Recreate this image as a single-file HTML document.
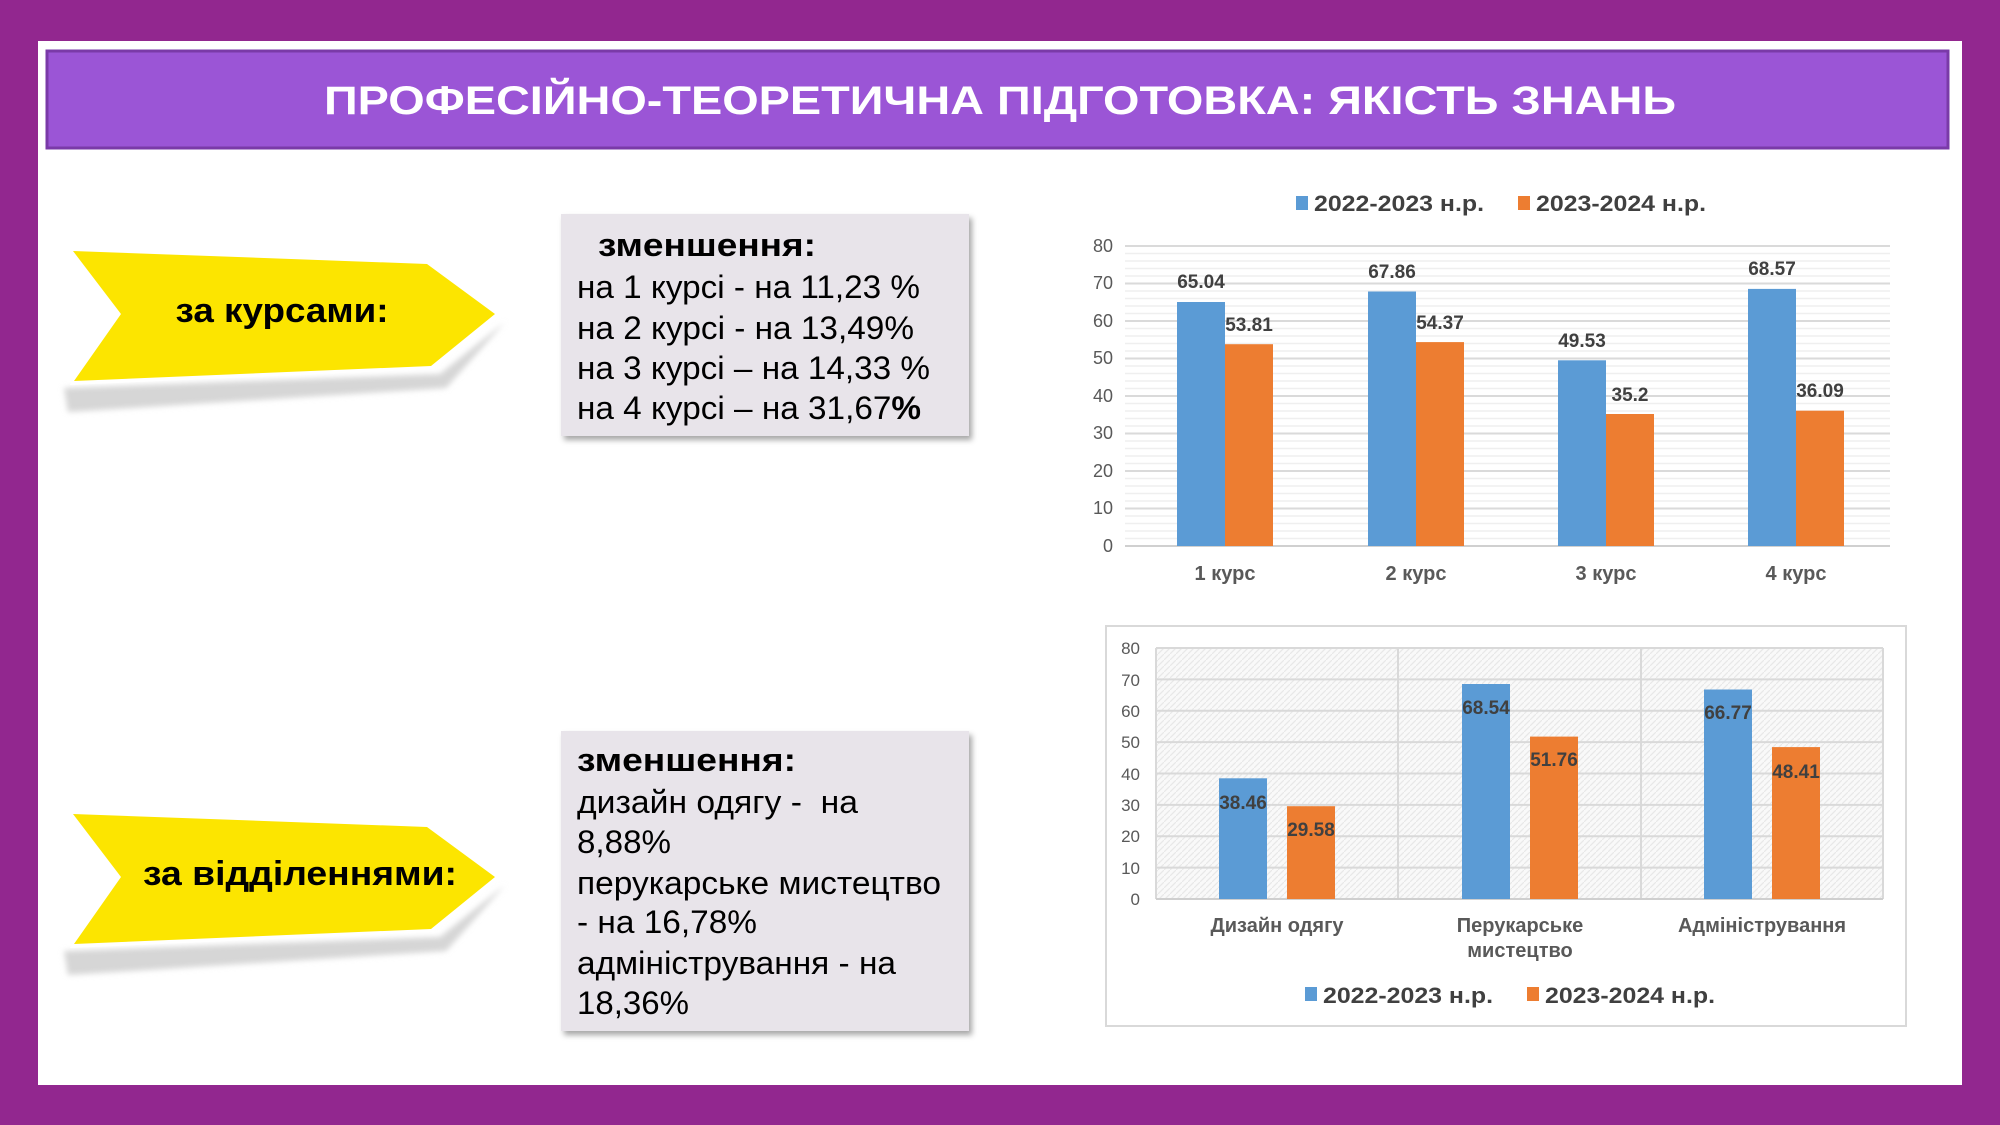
<!DOCTYPE html>
<html><head><meta charset="utf-8"><style>
html,body{margin:0;padding:0;background:#92278f;}
svg{display:block}
text{font-family:"Liberation Sans",sans-serif;}
</style></head><body>
<svg width="2000" height="1125" viewBox="0 0 2000 1125" xmlns="http://www.w3.org/2000/svg">
<defs>
<pattern id="h" width="6" height="6" patternUnits="userSpaceOnUse">
<rect width="6" height="6" fill="#f9f9f9"/>
<path d="M0,6 L6,0" stroke="#e8e8e8" stroke-width="1.2"/>
</pattern>
<filter id="sh" x="-10%" y="-10%" width="130%" height="130%"><feDropShadow dx="3" dy="4" stdDeviation="3" flood-color="#000" flood-opacity="0.35"/></filter>
<filter id="bl"><feGaussianBlur stdDeviation="3"/></filter>
</defs>
<rect width="2000" height="1125" fill="#92278f"/>
<rect x="38" y="41" width="1924" height="1044" fill="#fff"/>
<rect x="47" y="51" width="1901" height="97" fill="#9b55d6" stroke="#7a3aa8" stroke-width="3"/>
<text x="1000" y="114" text-anchor="middle" font-size="40" font-weight="bold" fill="#fff" textLength="1352" lengthAdjust="spacingAndGlyphs">ПРОФЕСІЙНО-ТЕОРЕТИЧНА ПІДГОТОВКА: ЯКІСТЬ ЗНАНЬ</text>

<!-- arrows -->
<g>
<polygon points="64,388 440,374 505,322 446,388 68,412" fill="#d6d6d6" filter="url(#bl)"/>
<polygon points="68,247 429,262 500,314 433,369 70,385 115,314" fill="#fff"/>
<polygon points="73,251 427,264 495,314 431,366 74,381 121,314" fill="#fce500"/>
<text x="282" y="322" text-anchor="middle" font-size="34" font-weight="bold" fill="#000" textLength="213" lengthAdjust="spacingAndGlyphs">за курсами:</text>
</g>
<g transform="translate(0,563)">
<polygon points="64,388 440,374 505,322 446,388 68,412" fill="#d6d6d6" filter="url(#bl)"/>
<polygon points="68,247 429,262 500,314 433,369 70,385 115,314" fill="#fff"/>
<polygon points="73,251 427,264 495,314 431,366 74,381 121,314" fill="#fce500"/>
<text x="300" y="322" text-anchor="middle" font-size="34" font-weight="bold" fill="#000" textLength="314" lengthAdjust="spacingAndGlyphs">за відділеннями:</text>
</g>

<!-- text boxes -->
<rect x="561" y="214" width="408" height="222" fill="#e8e4ea" filter="url(#sh)"/>
<g font-size="32" fill="#000">
<text x="598" y="256" font-weight="bold" textLength="218" lengthAdjust="spacingAndGlyphs">зменшення:</text>
<text x="577" y="298" textLength="343" lengthAdjust="spacingAndGlyphs">на 1 курсі - на 11,23 %</text>
<text x="577" y="339" textLength="337" lengthAdjust="spacingAndGlyphs">на 2 курсі - на 13,49%</text>
<text x="577" y="379" textLength="353" lengthAdjust="spacingAndGlyphs">на 3 курсі – на 14,33 %</text>
<text x="577" y="419" textLength="344" lengthAdjust="spacingAndGlyphs">на 4 курсі – на 31,67<tspan font-weight="bold">%</tspan></text>
</g>
<rect x="561" y="731" width="408" height="300" fill="#e8e4ea" filter="url(#sh)"/>
<g font-size="32" fill="#000">
<text x="577" y="771" font-weight="bold" textLength="219" lengthAdjust="spacingAndGlyphs">зменшення:</text>
<text x="577" y="813" textLength="281" lengthAdjust="spacingAndGlyphs">дизайн одягу - &#160;на</text>
<text x="577" y="853" textLength="94" lengthAdjust="spacingAndGlyphs">8,88%</text>
<text x="577" y="894" textLength="364" lengthAdjust="spacingAndGlyphs">перукарське мистецтво</text>
<text x="577" y="933" textLength="180" lengthAdjust="spacingAndGlyphs">- на 16,78%</text>
<text x="577" y="974" textLength="319" lengthAdjust="spacingAndGlyphs">адміністрування - на</text>
<text x="577" y="1014" textLength="112" lengthAdjust="spacingAndGlyphs">18,36%</text>
</g>

<!-- chart 1 -->
<g>
<rect x="1296" y="196" width="12" height="14" fill="#5b9bd5"/>
<text x="1314" y="211" font-size="22" font-weight="bold" fill="#404040" textLength="170" lengthAdjust="spacingAndGlyphs">2022-2023 н.р.</text>
<rect x="1518" y="196" width="12" height="14" fill="#ed7d31"/>
<text x="1536" y="211" font-size="22" font-weight="bold" fill="#404040" textLength="170" lengthAdjust="spacingAndGlyphs">2023-2024 н.р.</text>
<g stroke="#efefef" stroke-width="1.5">
<path d="M1125,538.5H1890M1125,531H1890M1125,523.5H1890M1125,516H1890M1125,501H1890M1125,493.5H1890M1125,486H1890M1125,478.5H1890M1125,463.5H1890M1125,456H1890M1125,448.5H1890M1125,441H1890M1125,426H1890M1125,418.5H1890M1125,411H1890M1125,403.5H1890M1125,388.5H1890M1125,381H1890M1125,373.5H1890M1125,366H1890M1125,351H1890M1125,343.5H1890M1125,336H1890M1125,328.5H1890M1125,313.5H1890M1125,306H1890M1125,298.5H1890M1125,291H1890M1125,276H1890M1125,268.5H1890M1125,261H1890M1125,253.5H1890"/>
</g>
<g stroke="#dadada" stroke-width="2">
<path d="M1125,246H1890M1125,283.5H1890M1125,321H1890M1125,358.5H1890M1125,396H1890M1125,433.5H1890M1125,471H1890M1125,508.5H1890"/>
</g>
<path d="M1125,546H1890" stroke="#d0d0d0" stroke-width="2"/>
<g font-size="18" fill="#595959" text-anchor="end">
<text x="1113" y="552">0</text><text x="1113" y="514">10</text><text x="1113" y="477">20</text><text x="1113" y="439">30</text><text x="1113" y="402">40</text><text x="1113" y="364">50</text><text x="1113" y="327">60</text><text x="1113" y="289">70</text><text x="1113" y="252">80</text>
</g>
<g fill="#5b9bd5">
<rect x="1177" y="302" width="48" height="244"/><rect x="1368" y="291.5" width="48" height="254.5"/><rect x="1558" y="360.3" width="48" height="185.7"/><rect x="1748" y="288.9" width="48" height="257.1"/>
</g>
<g fill="#ed7d31">
<rect x="1225" y="344.2" width="48" height="201.8"/><rect x="1416" y="342.1" width="48" height="203.9"/><rect x="1606" y="414" width="48" height="132"/><rect x="1796" y="410.7" width="48" height="135.3"/>
</g>
<g font-size="19" font-weight="bold" fill="#404040" text-anchor="middle">
<text x="1201" y="288">65.04</text><text x="1249" y="331">53.81</text>
<text x="1392" y="278">67.86</text><text x="1440" y="329">54.37</text>
<text x="1582" y="347">49.53</text><text x="1630" y="401">35.2</text>
<text x="1772" y="275">68.57</text><text x="1820" y="397">36.09</text>
</g>
<g font-size="20" font-weight="bold" fill="#595959" text-anchor="middle">
<text x="1225" y="580">1 курс</text><text x="1416" y="580">2 курс</text><text x="1606" y="580">3 курс</text><text x="1796" y="580">4 курс</text>
</g>
</g>

<!-- chart 2 -->
<g>
<rect x="1106" y="626" width="800" height="400" fill="#fff" stroke="#d9d9d9" stroke-width="2"/>
<rect x="1156" y="648" width="727" height="251" fill="url(#h)"/>
<g stroke="#d9d9d9" stroke-width="2">
<path d="M1156,648H1883M1156,679.4H1883M1156,710.8H1883M1156,742.1H1883M1156,773.5H1883M1156,804.9H1883M1156,836.3H1883M1156,867.6H1883M1156,648V899M1398,648V899M1641,648V899M1883,648V899"/>
</g>
<path d="M1156,899H1883" stroke="#cfcfcf" stroke-width="2"/>
<g font-size="17" fill="#595959" text-anchor="end">
<text x="1140" y="905">0</text><text x="1140" y="874">10</text><text x="1140" y="842">20</text><text x="1140" y="811">30</text><text x="1140" y="780">40</text><text x="1140" y="748">50</text><text x="1140" y="717">60</text><text x="1140" y="686">70</text><text x="1140" y="654">80</text>
</g>
<g fill="#5b9bd5">
<rect x="1219" y="778.3" width="48" height="120.7"/><rect x="1462" y="684" width="48" height="215"/><rect x="1704" y="689.5" width="48" height="209.5"/>
</g>
<g fill="#ed7d31">
<rect x="1287" y="806.2" width="48" height="92.8"/><rect x="1530" y="736.6" width="48" height="162.4"/><rect x="1772" y="747.1" width="48" height="151.9"/>
</g>
<g font-size="19" font-weight="bold" fill="#404040" text-anchor="middle">
<text x="1243" y="809">38.46</text><text x="1311" y="836">29.58</text>
<text x="1486" y="714">68.54</text><text x="1554" y="766">51.76</text>
<text x="1728" y="719">66.77</text><text x="1796" y="778">48.41</text>
</g>
<g font-size="20" font-weight="bold" fill="#595959" text-anchor="middle">
<text x="1277" y="932">Дизайн одягу</text>
<text x="1520" y="932">Перукарське</text><text x="1520" y="957">мистецтво</text>
<text x="1762" y="932">Адміністрування</text>
</g>
<rect x="1305" y="987" width="12" height="14" fill="#5b9bd5"/>
<text x="1323" y="1003" font-size="22" font-weight="bold" fill="#404040" textLength="170" lengthAdjust="spacingAndGlyphs">2022-2023 н.р.</text>
<rect x="1527" y="987" width="12" height="14" fill="#ed7d31"/>
<text x="1545" y="1003" font-size="22" font-weight="bold" fill="#404040" textLength="170" lengthAdjust="spacingAndGlyphs">2023-2024 н.р.</text>
</g>
</svg>
</body></html>
